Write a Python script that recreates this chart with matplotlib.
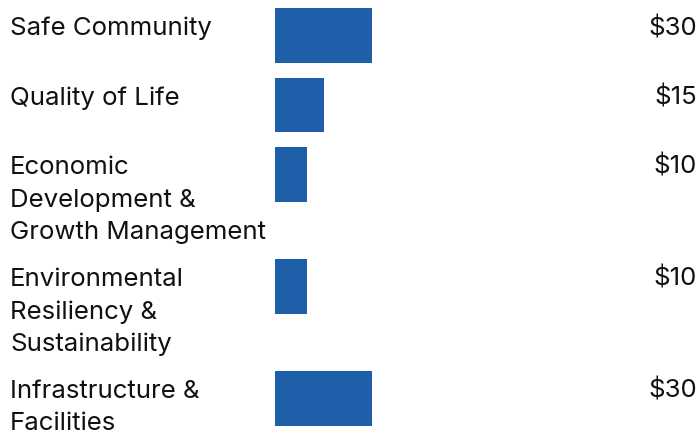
import numpy as np
import matplotlib.pyplot as plt

# Données
categories = ['Safe Community', 'Quality of Life',
              'Economic\nDevelopment &\nGrowth Management',
              'Environmental\nResiliency &\nSustainability',
              'Infrastructure &\nFacilities']
values = [30, 15, 10, 10, 30]
value_labels = ['$30', '$15', '$10', '$10', '$30']

W, H = 699, 430
plt.rcParams['font.family'] = ['Inter', 'DejaVu Sans']

fig = plt.figure(figsize=(W / 100, H / 100), dpi=100)
ax = fig.add_axes([0, 0, 1, 1])
ax.axis('off')

# échelle : 0 -> 275 px, 30 -> 372 px
px_per_unit = 97 / 30
ax.set_xlim(-275 / px_per_unit, (W - 275) / px_per_unit)
ax.set_ylim(H, 0)

# hauteur des lignes selon le nombre de lignes de texte
n_lines = np.array([c.count('\n') + 1 for c in categories])
row_h = np.maximum(69.5, 32.5 * n_lines + 14.5)
tops = 8 + np.concatenate([[0], np.cumsum(row_h)[:-1]])

ax.barh(tops, values, height=54.7, left=0, align='edge', color='#1F5FAA')

trans = ax.get_yaxis_transform()
for top, cat, lab in zip(tops, categories, value_labels):
    for i, line in enumerate(cat.split('\n')):
        ax.text(10 / W, top + 27 + 32.5 * i, line, transform=trans,
                ha='left', va='baseline', fontsize=18.6, color='#111111')
    ax.text(697 / W, top + 27, lab, transform=trans, ha='right', va='baseline',
            fontsize=18.6, color='#111111')

fig.savefig('out.png', dpi=100)
